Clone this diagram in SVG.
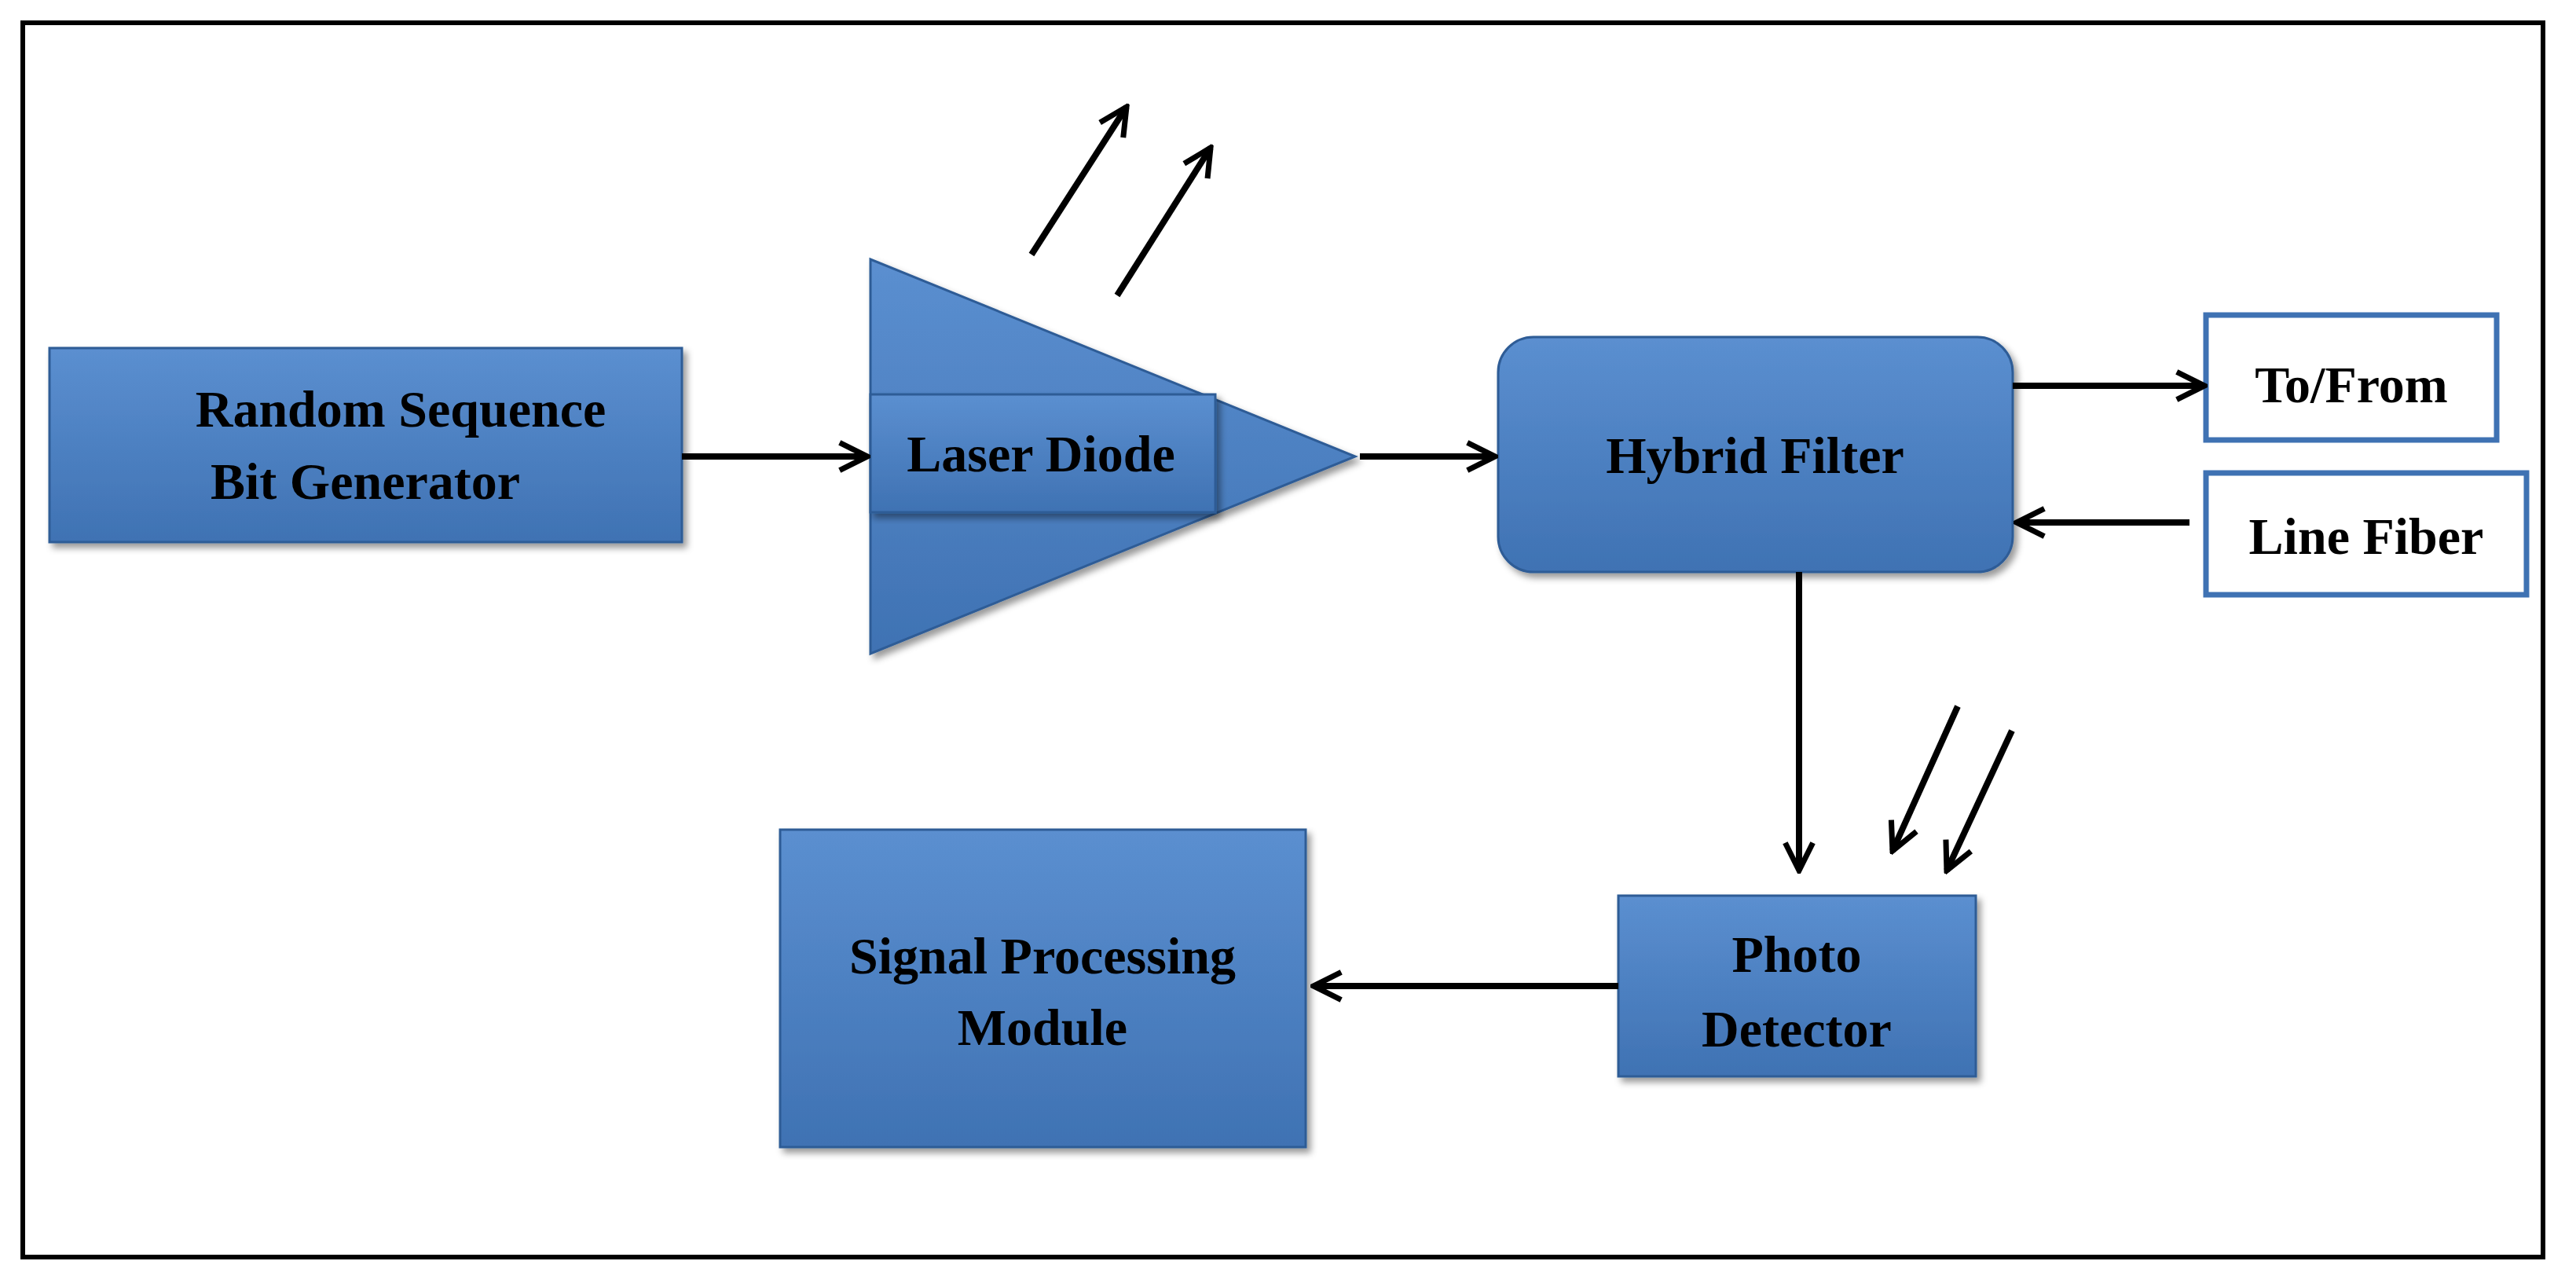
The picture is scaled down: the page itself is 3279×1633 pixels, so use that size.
<svg xmlns="http://www.w3.org/2000/svg" width="3279" height="1633" viewBox="0 0 3279 1633">
<defs>
<linearGradient id="g" x1="0" y1="0" x2="0" y2="1"><stop offset="0" stop-color="#5b8fd0"/><stop offset="1" stop-color="#3f72b3"/></linearGradient>
<marker id="ah" viewBox="0 0 10 10" refX="9" refY="5" markerWidth="44" markerHeight="44" markerUnits="userSpaceOnUse" orient="auto"><path d="M1,1 L9,5 L1,9" fill="none" stroke="#000" stroke-width="1.6"/></marker>
<filter id="sh"><feDropShadow dx="5" dy="6" stdDeviation="4" flood-color="#000" flood-opacity="0.4"/></filter>
</defs>
<style>
.b{fill:url(#g);stroke:#2e5c96;stroke-width:3;filter:url(#sh)}
.w{fill:#fff;stroke:#3f72b3;stroke-width:7}
.t{font-family:"Liberation Serif",serif;font-weight:bold;font-size:66px;fill:#000;text-anchor:middle}
.c{stroke:#000;stroke-width:8;fill:none;marker-end:url(#ah)}
</style>
<rect x="29" y="29" width="3208" height="1571" fill="#fff" stroke="#000" stroke-width="6"/>
<g id="rsbg"><rect class="b" x="63" y="443" width="805" height="247"/><text class="t" x="510" y="543">Random Sequence</text><text class="t" x="465" y="635">Bit Generator</text></g>
<g id="laser"><polygon class="b" points="1108,330 1108,832 1725,581"/><rect class="b" x="1108" y="502" width="439" height="150"/><text class="t" x="1325" y="600">Laser Diode</text></g>
<g id="hybrid"><rect class="b" x="1907" y="429" width="655" height="299" rx="45"/><text class="t" x="2234" y="602">Hybrid Filter</text></g>
<g id="tofrom"><rect class="w" x="2808" y="401" width="370" height="159"/><text class="t" x="2993" y="512">To/From</text></g>
<g id="linefiber"><rect class="w" x="2808" y="602" width="408" height="155"/><text class="t" x="3012" y="705">Line Fiber</text></g>
<g id="photo"><rect class="b" x="2060" y="1140" width="455" height="230"/><text class="t" x="2287" y="1237">Photo</text><text class="t" x="2287" y="1332">Detector</text></g>
<g id="signal"><rect class="b" x="993" y="1056" width="669" height="404"/><text class="t" x="1327" y="1239">Signal Processing</text><text class="t" x="1327" y="1330">Module</text></g>
<g id="connectors">
<line class="c" x1="868" y1="581" x2="1104" y2="581"/>
<line class="c" x1="1731" y1="581" x2="1903" y2="581"/>
<line class="c" x1="2562" y1="491" x2="2806" y2="491"/>
<line class="c" x1="2787" y1="665" x2="2567" y2="665"/>
<line class="c" x1="2290" y1="728" x2="2290" y2="1108"/>
<line class="c" x1="2060" y1="1255" x2="1672" y2="1255"/>
<line class="c" x1="1313" y1="324" x2="1434" y2="136"/>
<line class="c" x1="1422" y1="376" x2="1541" y2="188"/>
<line class="c" x1="2492" y1="899" x2="2409" y2="1083"/>
<line class="c" x1="2561" y1="930" x2="2478" y2="1108"/>
</g>
</svg>
